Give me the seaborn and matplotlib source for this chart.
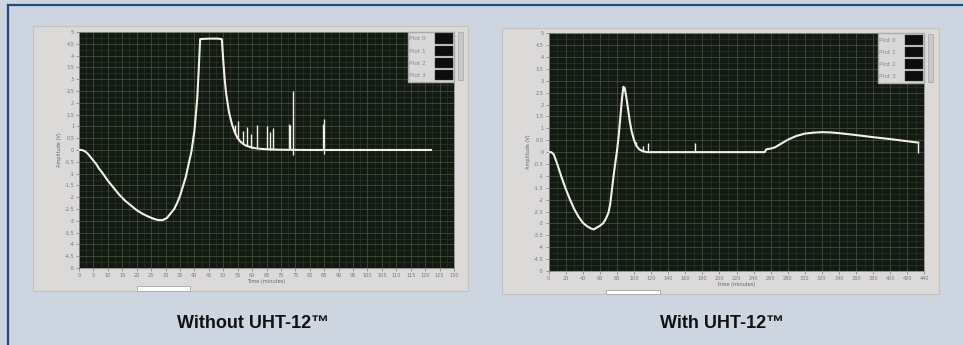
import numpy as np
import pandas as pd
import matplotlib
matplotlib.use('Agg')
import matplotlib.pyplot as plt
import seaborn as sns
from matplotlib.patches import Rectangle, Patch
from matplotlib.ticker import MultipleLocator, FuncFormatter

# --- Without UHT-12 (time in minutes, amplitude in V) ---
left_time = [0, 1, 2, 3, 4, 5, 6, 7, 8, 10, 12, 14, 16, 18, 20, 22, 24, 26, 27.5, 29,
             30.5, 32, 33, 34, 35, 36, 37, 38, 39, 40, 41, 41.5, 42, 45, 48, 49.5, 50,
             50.5, 51, 52, 53, 54, 55, 56, 57, 58, 60, 62, 65, 70, 80, 100, 122]
left_amp = [0, 0, -0.05, -0.15, -0.3, -0.45, -0.6, -0.8, -0.95, -1.3, -1.6, -1.9, -2.15,
            -2.35, -2.55, -2.7, -2.82, -2.92, -2.97, -2.97, -2.88, -2.65, -2.5, -2.25,
            -1.95, -1.55, -1.15, -0.6, -0.05, 0.8, 2.2, 3.4, 4.7, 4.72, 4.72, 4.7, 3.8,
            3.0, 2.4, 1.6, 1.1, 0.75, 0.5, 0.35, 0.25, 0.18, 0.1, 0.06, 0.03, 0.01, 0, 0, 0]
left_spike_t = [54.1, 55.2, 57.0, 58.1, 59.5, 61.8, 65.1, 66.2, 67.1, 72.7, 73.1, 74.1, 84.5, 84.9]
left_spike_lo = [0.7, 0.5, 0.25, 0.18, 0.1, 0.06, 0.03, 0.02, 0.02, 0, 0, -0.2, 0, -0.15]
left_spike_hi = [1.06, 1.23, 0.82, 0.99, 0.68, 1.06, 1.02, 0.78, 0.95, 1.09, 1.05, 2.52, 1.1, 1.3]

# --- With UHT-12 ---
right_time = [0, 3, 6, 10, 15, 20, 25, 30, 35, 40, 45, 50, 53, 56, 60, 64, 67, 70, 72, 74,
              76, 78, 80, 82, 84, 86, 87.5, 89, 91, 93, 95, 97, 100, 103, 106, 110, 115,
              200, 253, 255, 260, 265, 272, 280, 290, 300, 310, 320, 330, 340, 360, 380,
              400, 420, 433]
right_amp = [0, 0, -0.1, -0.5, -1.05, -1.55, -2.0, -2.4, -2.72, -2.97, -3.12, -3.22, -3.25,
             -3.18, -3.1, -2.98, -2.8, -2.55, -2.2, -1.6, -1.0, -0.45, 0.05, 0.7, 1.5, 2.3,
             2.75, 2.7, 2.3, 1.8, 1.3, 0.9, 0.5, 0.25, 0.12, 0.04, 0, 0, 0, 0.12, 0.15, 0.2,
             0.35, 0.52, 0.68, 0.78, 0.82, 0.84, 0.83, 0.8, 0.72, 0.63, 0.55, 0.46, 0.4]
right_spike_t = [102.8, 110.6, 116.8, 171.3, 433]
right_spike_lo = [0.25, 0.04, 0, 0, -0.05]
right_spike_hi = [0.44, 0.26, 0.4, 0.37, 0.4]

legend_labels = ['Plot 0', 'Plot 1', 'Plot 2', 'Plot 3']

W, H = 963, 345
BG = '#cdd6e0'
PLOT_BG = '#131913'
LINE = '#f3f0e6'


def box(x, y, w, h):
    # pixel box (top-left origin) -> figure fraction
    return [x / W, 1 - (y + h) / H, w / W, h / H]


def add_rect(fig, pix, face, edge, lw, z):
    x, y, w, h = box(*pix)
    fig.patches.append(Rectangle((x, y), w, h, transform=fig.transFigure,
                                 facecolor=face, edgecolor=edge, lw=lw, zorder=z))


def panel(fig, frame, area, t, amp, sp_t, sp_lo, sp_hi, xmax, xstep, xlabel, textbox, scroll):
    add_rect(fig, frame, '#dcd9d9', '#c4c1c1', 0.8, -3)
    add_rect(fig, textbox, 'white', '#999', 0.5, -2)
    add_rect(fig, scroll, '#c9c6c6', '#a8a5a5', 0.5, -2)

    ax = fig.add_axes(box(*area))
    ax.set_zorder(2)
    ax.set_facecolor(PLOT_BG)
    df = pd.DataFrame({'time': t, 'amp': amp})
    sns.lineplot(data=df, x='time', y='amp', ax=ax, color=LINE, lw=1.5, sort=False,
                 legend=False, zorder=3)
    ax.vlines(sp_t, sp_lo, sp_hi, color=LINE, lw=1.0, zorder=3)

    ax.set_xlim(0, xmax)
    ax.set_ylim(-5, 5)
    ax.xaxis.set_major_locator(MultipleLocator(xstep))
    ax.xaxis.set_minor_locator(MultipleLocator(xstep / 2))
    ax.yaxis.set_major_locator(MultipleLocator(0.5))
    ax.yaxis.set_minor_locator(MultipleLocator(0.25))
    ax.yaxis.set_major_formatter(FuncFormatter(lambda v, p: '%g' % v))
    ax.grid(which='major', color='#4a5a40', lw=0.5)
    ax.grid(which='minor', color='#2d3a29', lw=0.4)
    ax.set_axisbelow(True)
    ax.tick_params(which='major', labelsize=3.6, colors='#777', length=2, width=0.5, pad=1.5)
    ax.tick_params(which='minor', length=0)
    for s in ax.spines.values():
        s.set_color('#888')
        s.set_linewidth(0.6)
    ax.set_xlabel(xlabel, fontsize=3.6, color='#666', labelpad=1)
    ax.set_ylabel('Amplitude (V)', fontsize=3.6, color='#666', labelpad=2)

    handles = [Patch(facecolor='#0d0d0d', edgecolor='#444', lw=0.3) for _ in legend_labels]
    leg = ax.legend(handles, legend_labels, loc='upper right', bbox_to_anchor=(1.0, 1.0),
                    fontsize=4.2, markerfirst=False, frameon=True, fancybox=False,
                    framealpha=1, facecolor='#d9d7d7', edgecolor='#aaa',
                    handlelength=3.0, handleheight=2.3, labelspacing=0.35,
                    borderpad=0.25, handletextpad=1.6, borderaxespad=0)
    for txt in leg.get_texts():
        txt.set_color('#8a8a8a')
    leg.set_zorder(5)
    return ax


def main():
    fig = plt.figure(figsize=(W / 100, H / 100), dpi=100, facecolor=BG)

    # frame lines at top and left
    fig.add_artist(plt.Line2D([8 / W, 1], [1 - 4.5 / H, 1 - 4.5 / H], transform=fig.transFigure,
                              color='#234a7c', lw=1.6))
    fig.add_artist(plt.Line2D([8 / W, 8 / W], [0, 1 - 4.5 / H], transform=fig.transFigure,
                              color='#234a7c', lw=1.6))

    panel(fig, (33, 26, 435, 265), (79, 32, 375, 236), left_time, left_amp,
          left_spike_t, left_spike_lo, left_spike_hi, 130, 5, 'Time (minutes)',
          (137, 286, 53, 5), (458, 32, 5, 48))
    panel(fig, (502, 28, 437, 266), (548.7, 33.3, 375.6, 237.7), right_time, right_amp,
          right_spike_t, right_spike_lo, right_spike_hi, 440, 20, 'time (minutes)',
          (606, 290, 54, 4), (928, 34, 5, 48))

    cap = dict(fontsize=13, fontweight='bold', ha='center', va='center', color='#111',
               family=['Liberation Sans', 'DejaVu Sans'])
    fig.text(253 / W, 1 - 323 / H, 'Without UHT-12\u2122', **cap)
    fig.text(722 / W, 1 - 323 / H, 'With UHT-12\u2122', **cap)

    fig.savefig('out.png', dpi=100, facecolor=BG)


if __name__ == "__main__":
    main()
